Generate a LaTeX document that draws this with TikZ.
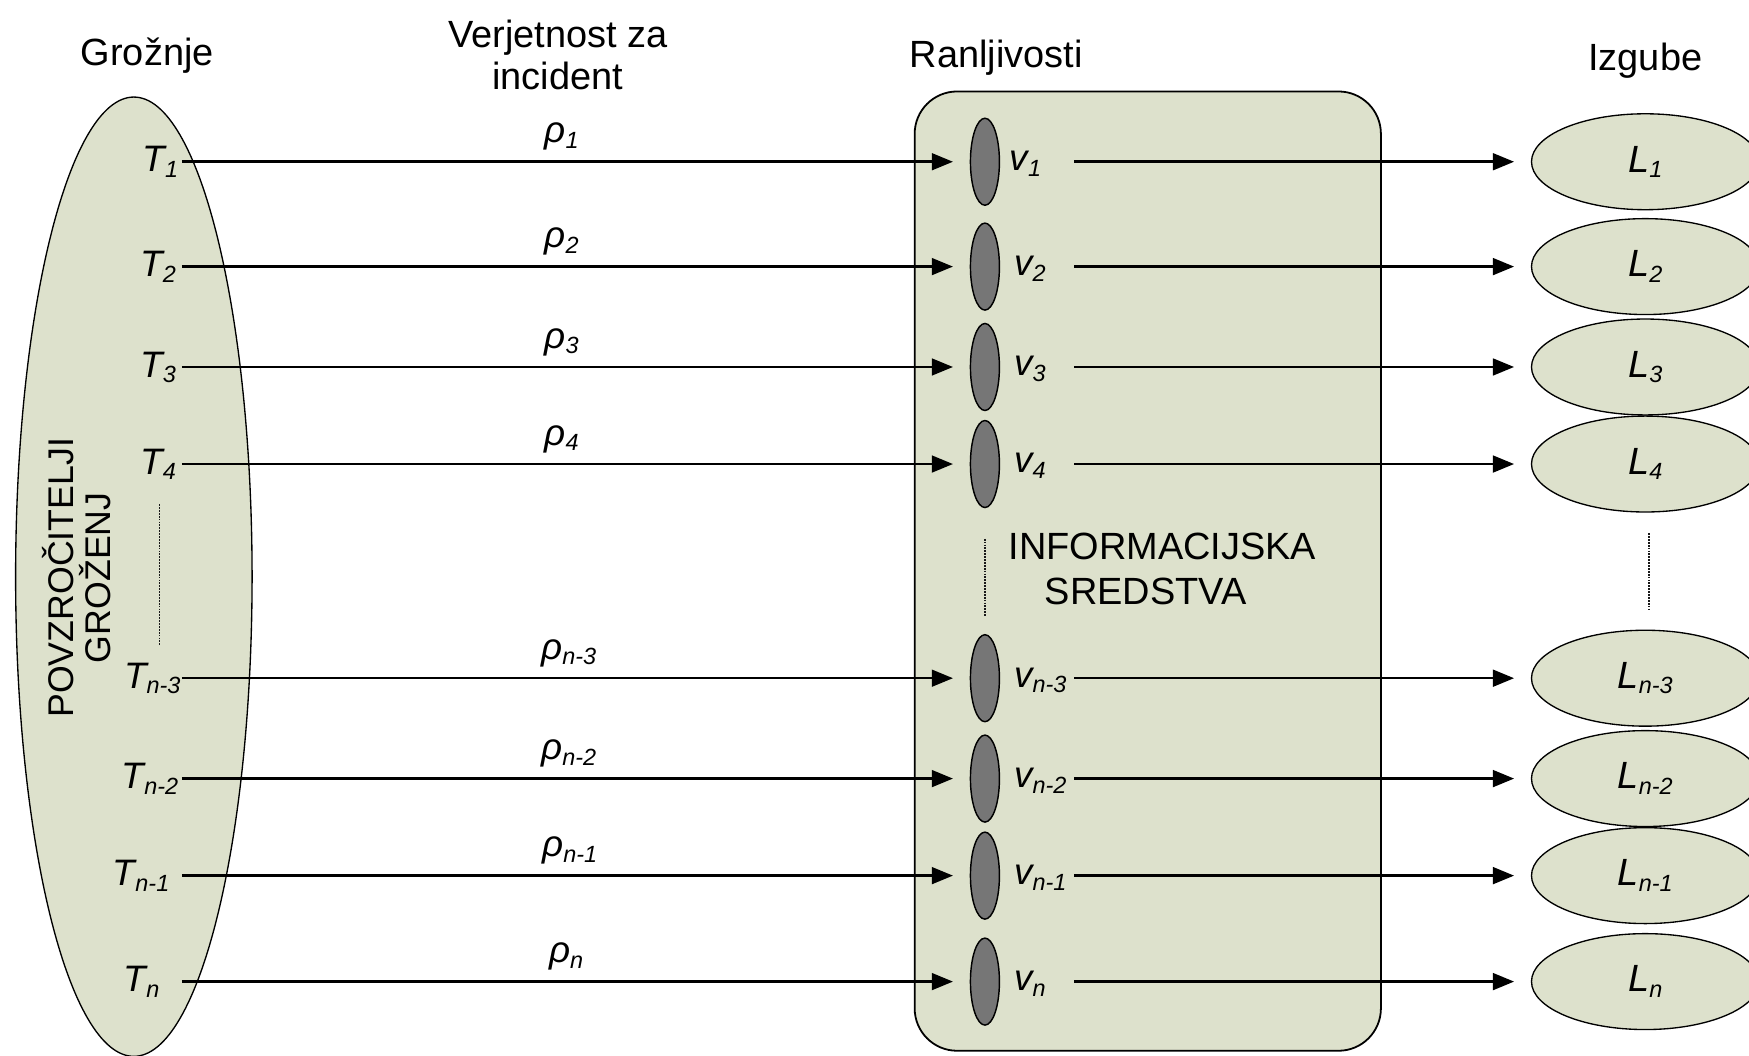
\documentclass[tikz,border=0pt]{standalone}
\usepackage{fontspec}
\setmainfont{Liberation Sans}
\usetikzlibrary{shapes.geometric,arrows.meta}
\definecolor{pale}{HTML}{DDE1CC}
\definecolor{vgray}{HTML}{767676}
\newcommand{\sbs}[1]{\raisebox{-5pt}{\fontsize{21}{22}\selectfont\itshape #1}}
\begin{document}
\begin{tikzpicture}[x=1pt,y=-1pt,
  every node/.style={font=\fontsize{34}{38}\selectfont, inner sep=0pt},
  conn/.style={line width=2.3pt, -{Triangle[length=19pt,width=15pt]}, shorten >=15pt},
  paleell/.style={ellipse, draw, line width=1.2pt, fill=pale},
  vell/.style={ellipse, draw, line width=1.3pt, fill=vgray, minimum width=26pt, minimum height=78pt},
  lossell/.style={paleell, minimum width=204pt, minimum height=86pt, font=\fontsize{34}{38}\selectfont\itshape},
  sym/.style={font=\fontsize{33}{38}\selectfont\itshape},
  dotline/.style={densely dotted, line width=1.6pt, draw=black!90}]
\useasboundingbox (0,0) rectangle (1568,946);
\clip (0,0) rectangle (1568,946);

% titles
\node (tG) at (132,50) {Grožnje};
\node[align=center] (tP) at (500,49) {Verjetnost za\\incident};
\node (tR) at (893,52) {Ranljivosti};
\node (tI) at (1475,54) {Izgube};

% threat sources
\node[paleell, minimum width=212pt, minimum height=860pt] (G) at (120,517) {};
\node[rotate=90, align=center, font=\fontsize{32}{33}\selectfont] (PG) at (69,518) {POVZROČITELJI\\GROŽENJ};
\draw[dotline] (143,452) -- (143,578);

% information assets
\node[draw, line width=1.6pt, fill=pale, rounded corners=38pt,
      minimum width=418pt, minimum height=860pt] (IS) at (1029,512) {};
\node (IS1) at (1042,490) {INFORMACIJSKA};
\node (IS2) at (1027,530) {SREDSTVA};
\draw[dotline] (883,483) -- (883,553);
\draw[dotline] (1478,478) -- (1478,548);

\foreach \i/\y/\s/\tx/\rx/\vx in {1/145/1/160/488/905, 2/239/2/158/488/909, 3/329/3/158/488/909, 4/416/4/158/488/909,
    5/608/n-3/162/485/909, 6/698/n-2/160/485/909, 7/785/n-1/152/486/909, 8/880/n/143/492/909} {
  \node[sym, anchor=base east] (T\i) at (\tx,\y+9) {T\sbs{\s}};
  \node[sym, anchor=base west] (R\i) at (\rx,\y-17) {ρ\sbs{\s}};
  \node[vell] (V\i) at (883,\y) {};
  \node[sym, anchor=base west] (VL\i) at (\vx,\y+8) {v\sbs{\s}};
  \node[lossell] (L\i) at (1475,\y) {L\sbs{\s}};
  \coordinate (A\i) at (163,\y);
  \coordinate (B\i) at (963,\y);
  \draw[conn] (A\i) -- (V\i);
  \draw[conn] (B\i) -- (L\i);
}
\end{tikzpicture}
\end{document}
